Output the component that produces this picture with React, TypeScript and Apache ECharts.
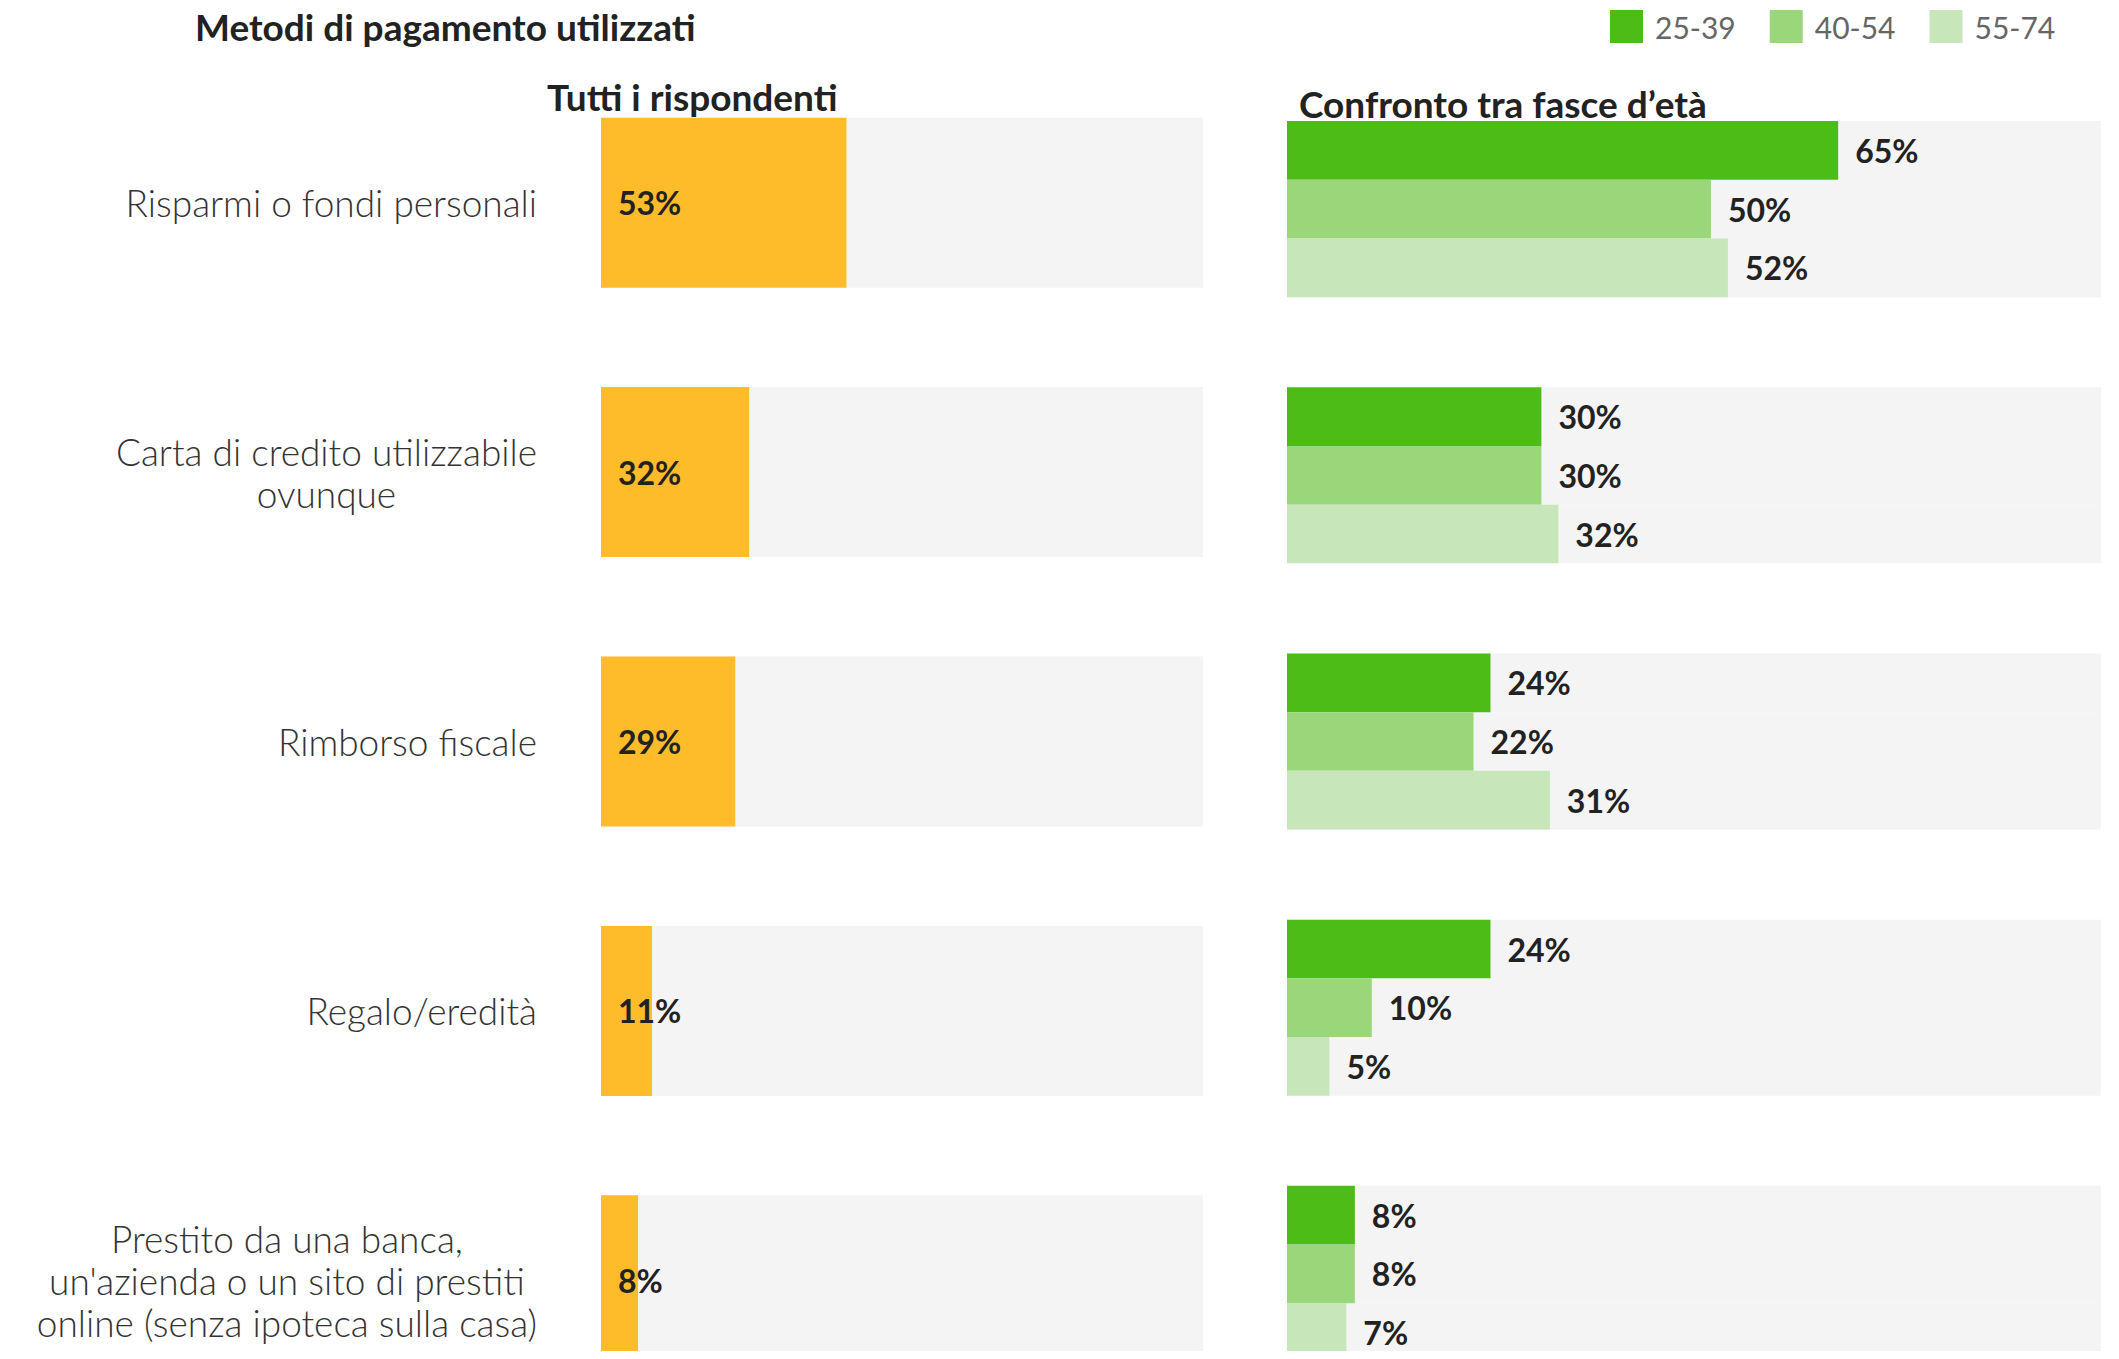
import React, { useEffect, useRef } from "react";
import * as echarts from "echarts";

const categories = [
  "Risparmi o fondi personali",
  "Carta di credito utilizzabile\novunque",
  "Rimborso fiscale",
  "Regalo/eredità",
  "Prestito da una banca,\nun'azienda o un sito di prestiti\nonline (senza ipoteca sulla casa)",
];
const allRespondents = [53, 32, 29, 11, 8];
const ageGroups = ["25-39", "40-54", "55-74"];
const age2539 = [65, 30, 24, 24, 8];
const age4054 = [50, 30, 22, 10, 8];
const age5574 = [52, 32, 31, 5, 7];

const FONT = "Lato";
const GREENS = ["#4DBC17", "#9AD77A", "#C7E6BA"];
const BG = "#F4F4F4";

export default function App() {
  const ref = useRef<HTMLDivElement>(null);
  useEffect(() => {
    if (!ref.current) return;
    const chart = echarts.init(ref.current, undefined, { renderer: "svg" });
    const valueLabel = {
      show: true,
      position: "right",
      distance: 17,
      formatter: "{c}%",
      color: "#222",
      fontFamily: FONT,
      fontWeight: 700,
      fontSize: 32,
    };
    const ageSeries = [age2539, age4054, age5574].map((d, i) => ({
      type: "bar",
      name: ageGroups[i],
      xAxisIndex: 1,
      yAxisIndex: 1,
      data: d,
      barWidth: 58.7,
      barGap: "0%",
      itemStyle: { color: GREENS[i] },
      showBackground: true,
      backgroundStyle: { color: BG },
      label: valueLabel,
    }));
    chart.setOption({
      animation: false,
      backgroundColor: "#ffffff",
      textStyle: { fontFamily: FONT },
      title: [
        {
          text: "Metodi di pagamento utilizzati",
          left: 190,
          top: 3,
          textStyle: { fontFamily: FONT, fontWeight: 700, fontSize: 37, color: "#222" },
        },
        {
          text: "Tutti i rispondenti",
          left: 542,
          top: 73,
          textStyle: { fontFamily: FONT, fontWeight: 700, fontSize: 37, color: "#222" },
        },
        {
          text: "Confronto tra fasce d’età",
          left: 1294,
          top: 80,
          textStyle: { fontFamily: FONT, fontWeight: 700, fontSize: 37, color: "#222" },
        },
      ],
      legend: {
        data: ageGroups,
        left: 1605,
        top: 5,
        icon: "rect",
        itemWidth: 33,
        itemHeight: 33,
        itemGap: 34,
        selectedMode: false,
        textStyle: { fontFamily: FONT, fontSize: 30, color: "#666", padding: [0, 0, 0, 7] },
      },
      grid: [
        { left: 601, width: 602, top: 68, height: 1347 },
        { left: 1287, width: 814, top: 76, height: 1331 },
      ],
      xAxis: [
        { type: "value", gridIndex: 0, min: 0, max: 130, show: false },
        { type: "value", gridIndex: 1, min: 0, max: 96, show: false },
      ],
      yAxis: [
        {
          type: "category",
          gridIndex: 0,
          inverse: true,
          data: categories,
          axisLine: { show: false },
          axisTick: { show: false },
          axisLabel: {
            margin: 64,
            align: "right",
            formatter: (v: string) => `{c|${v}}`,
            rich: {
              c: {
                align: "center",
                fontFamily: FONT,
                fontWeight: 300,
                fontSize: 37,
                lineHeight: 42,
                color: "#333",
              },
            },
          },
        },
        {
          type: "category",
          gridIndex: 1,
          inverse: true,
          data: categories,
          show: false,
        },
      ],
      series: [
        {
          type: "bar",
          name: "Tutti i rispondenti",
          xAxisIndex: 0,
          yAxisIndex: 0,
          data: allRespondents,
          barWidth: 170,
          itemStyle: { color: "#FFBC2A" },
          showBackground: true,
          backgroundStyle: { color: BG },
          label: { ...valueLabel, position: "insideLeft", distance: 17 },
        },
        ...ageSeries,
      ],
    });
    return () => chart.dispose();
  }, []);
  return (
    <div style={{ width: 2119, height: 1359, margin: -8, overflow: "hidden" }}>
      <div ref={ref} style={{ width: 2119, height: 1460 }} />
    </div>
  );
}
